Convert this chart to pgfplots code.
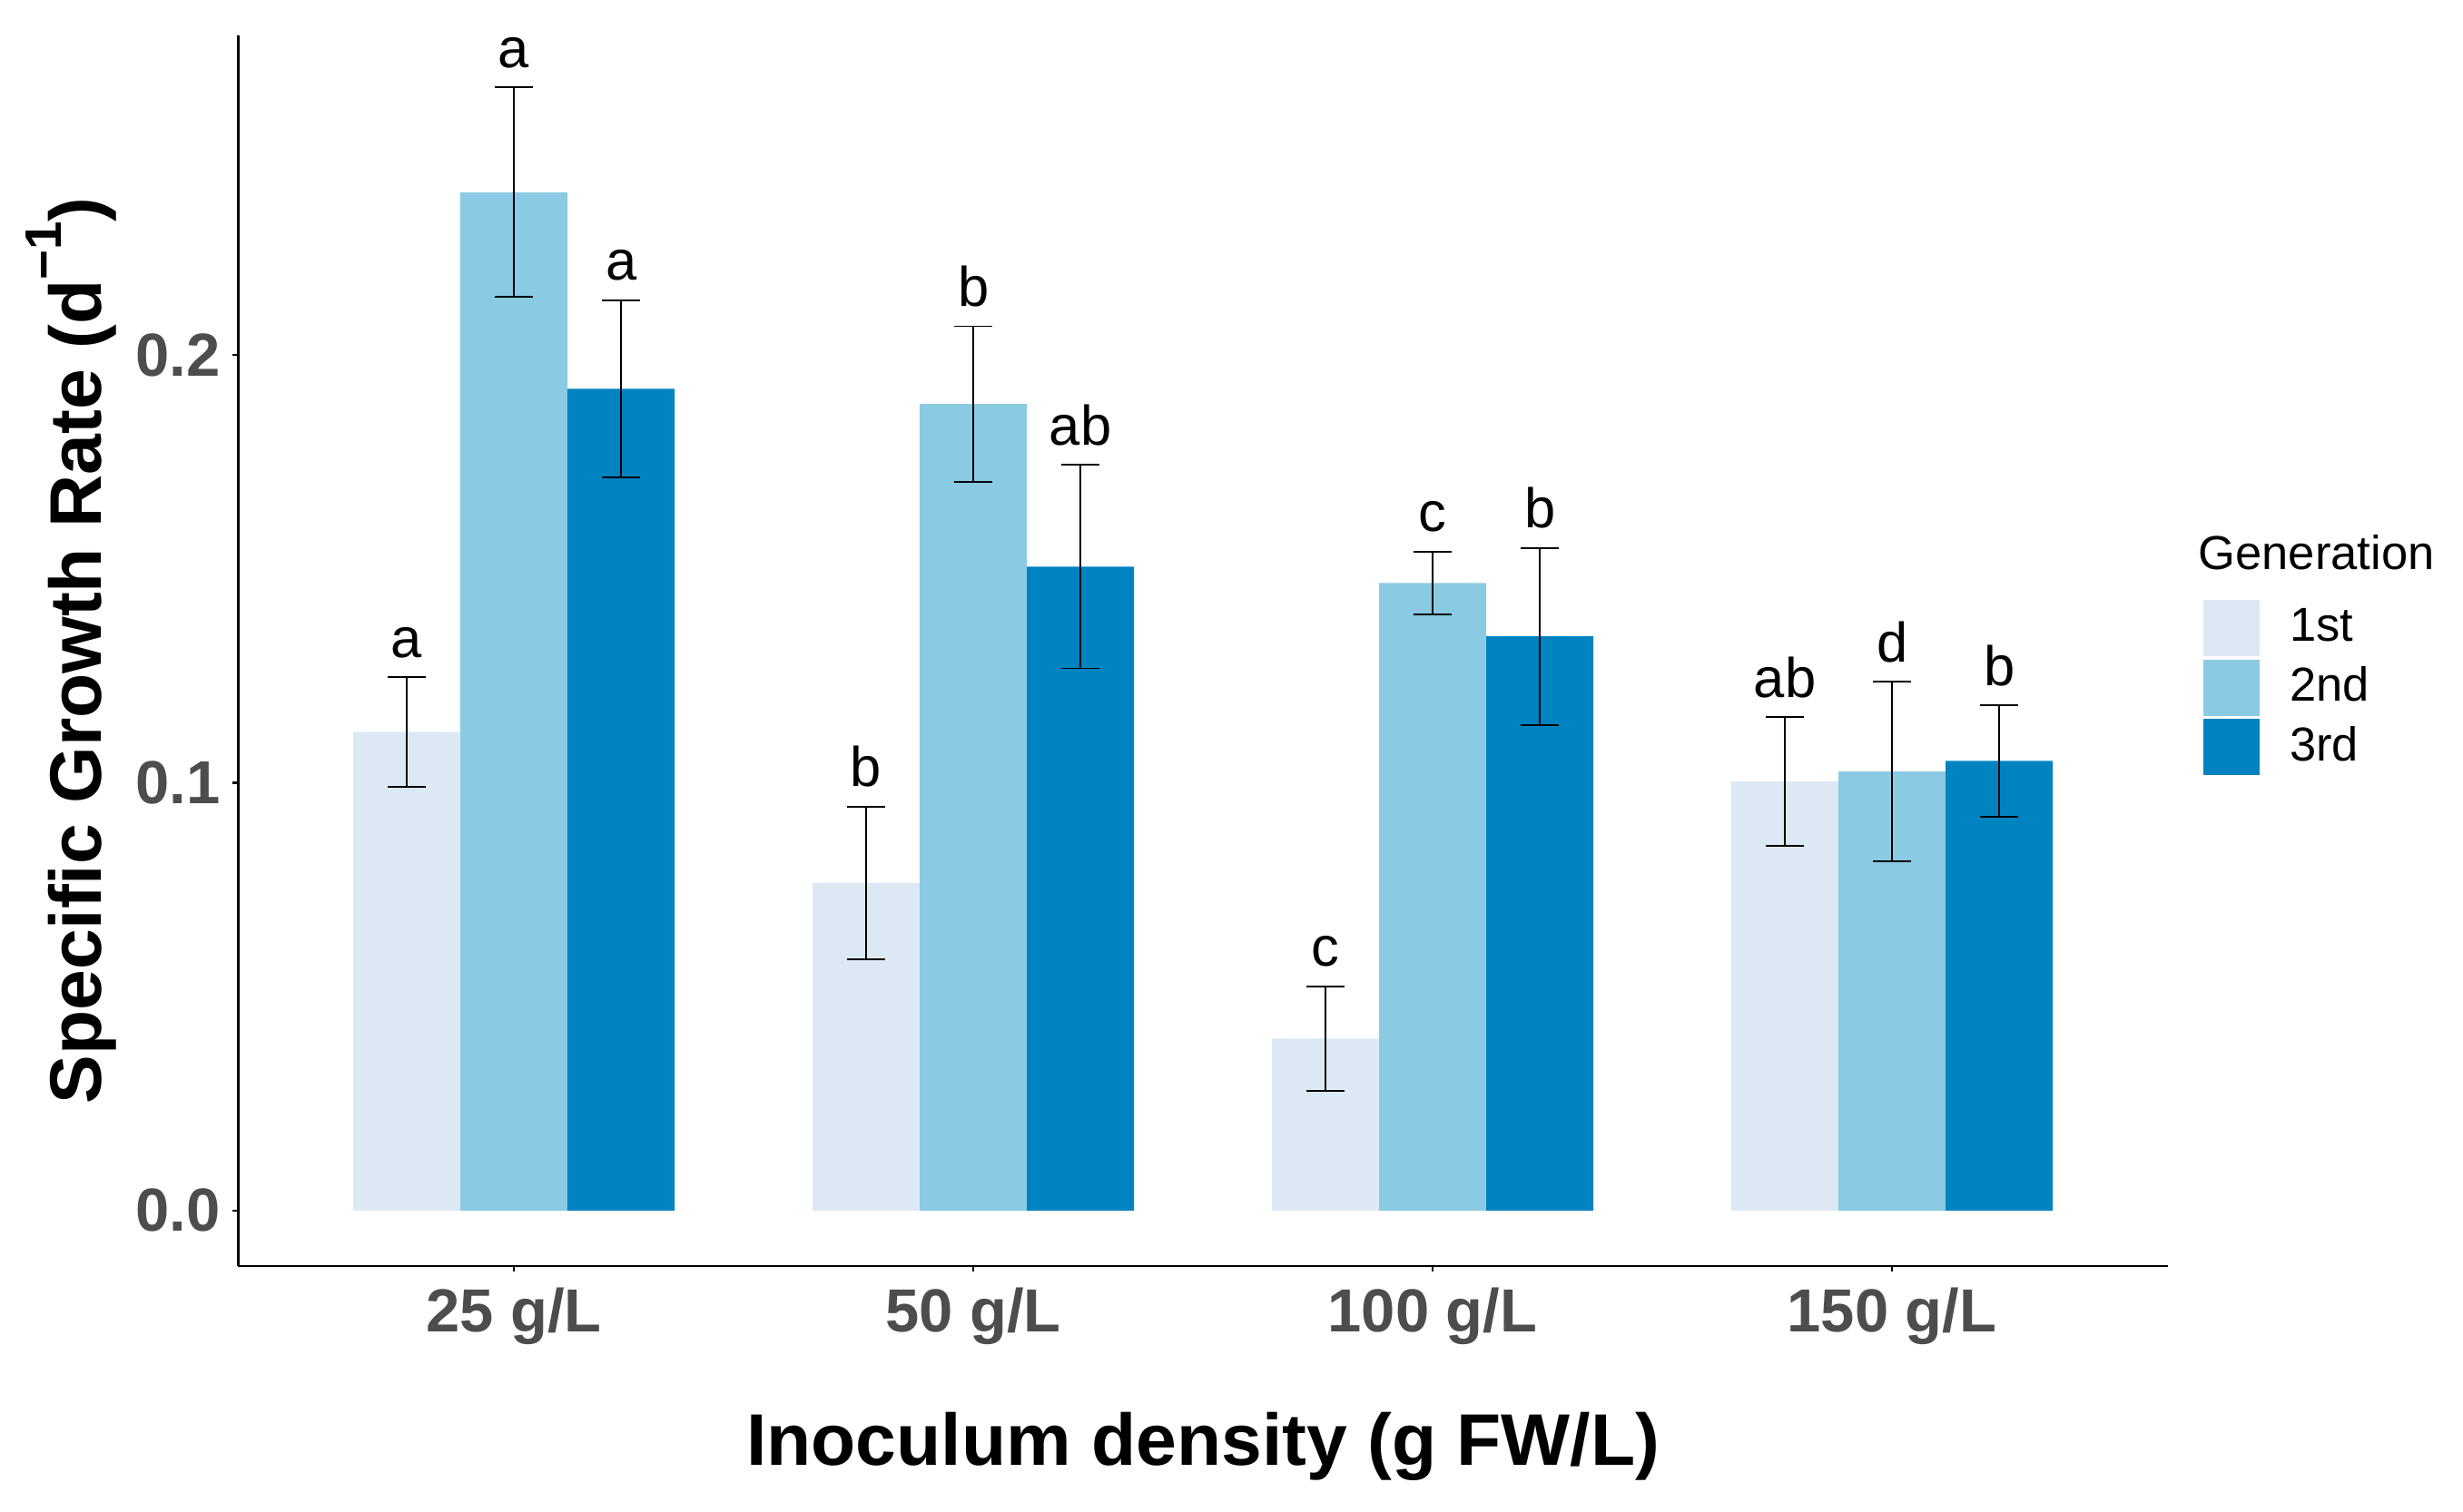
\documentclass[border=0pt]{standalone}
\usepackage{fontspec}
\setmainfont{Liberation Sans}
\usepackage{pgfplots}
\pgfplotsset{compat=1.18}
\usepackage{pgfplotstable}

\definecolor{genA}{HTML}{DCE9F5}
\definecolor{genB}{HTML}{8ACAE2}
\definecolor{genC}{HTML}{0083C1}
\definecolor{tickgray}{HTML}{4D4D4D}

\newcommand\tickfont{\fontsize{13.4}{16}\selectfont\bfseries}
\newcommand\titlefont{\fontsize{16.1}{19}\selectfont\bfseries}
\newcommand\letterfont{\fontsize{12.3}{14}\selectfont}
\newcommand\legfont{\fontsize{10.5}{12.5}\selectfont}

% mean and error (half-width) per inoculum density, one table per generation
\pgfplotstableread{
x y e
0 0.1119 0.0128
1 0.0766 0.0178
2 0.0402 0.0122
3 0.1003 0.0150
}\genone
\pgfplotstableread{
x y e
0 0.2380 0.0245
1 0.1885 0.0182
2 0.1467 0.0073
3 0.1026 0.0210
}\gentwo
\pgfplotstableread{
x y e
0 0.1921 0.0207
1 0.1505 0.0238
2 0.1342 0.0207
3 0.1051 0.0130
}\genthree
% letters sit above the upper end of each error bar
\pgfplotstableread{
x y label
-0.2333 0.1247 a
0.7667 0.0944 b
1.7667 0.0524 c
2.7667 0.1153 ab
0 0.2625 a
1 0.2067 b
2 0.1540 c
3 0.1236 d
0.2333 0.2128 a
1.2333 0.1743 ab
2.2333 0.1549 b
3.2333 0.1181 b
}\letters

\pgfplotsset{
  sqlegend/.style={legend image code/.code={\fill[##1] (0pt,-6.2pt) rectangle (12.4pt,6.2pt);}},
  genbar/.style={ybar, bar width=0.2333, draw=none, sqlegend},
  errbar/.style={forget plot, black, only marks, mark=*, mark size=0pt,
    /pgfplots/error bars/y dir=both, /pgfplots/error bars/y explicit,
    /pgfplots/error bars/error mark=|,
    /pgfplots/error bars/error bar style={black, line width=0.35pt},
    /pgfplots/error bars/error mark options={black, line width=0.35pt, mark size=4.2pt}},
}

\begin{document}
\begin{tikzpicture}
\useasboundingbox (-52.5pt,-54.06pt) rectangle (490.1pt,278.94pt);
\begin{axis}[
  scale only axis, width=425.04pt, height=271.08pt,
  xmin=-0.6, xmax=3.6, ymin=-0.0129, ymax=0.2746,
  axis lines=left,
  axis line style={-, line width=0.45pt, black},
  tick align=outside, major tick length=1.2pt,
  tick style={line width=0.45pt, black},
  xtick={0,1,2,3},
  xticklabels={25 g/L, 50 g/L, 100 g/L, 150 g/L},
  ytick={0,0.1,0.2},
  /pgf/number format/assume math mode=true,
  ticklabel style={font=\tickfont, text=tickgray, inner sep=0pt},
  xticklabel style={anchor=north, yshift=-3.4pt},
  yticklabel style={anchor=east, xshift=-2.6pt,
    /pgf/number format/fixed, /pgf/number format/fixed zerofill,
    /pgf/number format/precision=1},
  xlabel={Inoculum density (g FW/L)},
  ylabel={Specific Growth Rate (d\raisebox{0.55em}{\fontsize{11.3}{12}\selectfont −1})},
  every axis x label/.style={at={(axis description cs:0.5,-0.1623)}, anchor=base, font=\titlefont},
  every axis y label/.style={at={(axis description cs:-0.07105,0.5)}, rotate=90, anchor=base, font=\titlefont},
  clip=false,
  legend style={at={(axis description cs:1.01835,0.3989)}, anchor=south west,
    draw=none, fill=none, inner sep=0pt, outer sep=0pt, row sep=0.7pt,
    font=\legfont, nodes={inner sep=0pt},
    /tikz/every odd column/.style={column sep=6.7pt}},
  legend cell align=left,
]
\addplot[genbar, bar shift=-0.2333, fill=genA] table[x=x, y=y] {\genone};
\addplot[genbar, bar shift=0, fill=genB] table[x=x, y=y] {\gentwo};
\addplot[genbar, bar shift=0.2333, fill=genC] table[x=x, y=y] {\genthree};
\legend{1st, 2nd, 3rd}
% error bars, placed at the dodged bar centres
\addplot[errbar] table[x expr=\thisrow{x}-0.2333, y=y, y error=e] {\genone};
\addplot[errbar] table[x=x, y=y, y error=e] {\gentwo};
\addplot[errbar] table[x expr=\thisrow{x}+0.2333, y=y, y error=e] {\genthree};
\addplot[draw=none, only marks, mark=none, forget plot, nodes near coords, point meta=explicit symbolic,
  nodes near coords style={anchor=base, yshift=4.4pt, inner sep=0pt, font=\letterfont, text=black}]
  table[x=x, y=y, meta=label] {\letters};
\node[anchor=base west, font=\legfont, inner sep=0pt] at (axis description cs:1.01553,0.5664) {Generation};
\end{axis}
\end{tikzpicture}
\end{document}
